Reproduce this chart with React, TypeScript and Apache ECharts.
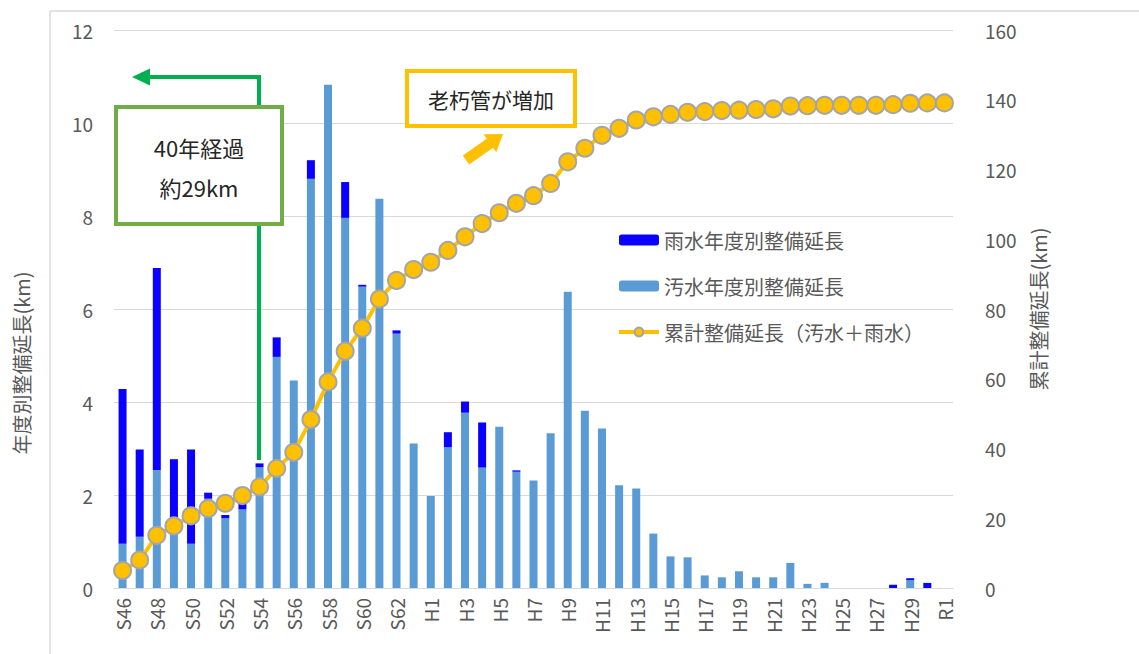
import React, { useEffect, useRef } from "react";
import * as echarts from "echarts";

const categories = [
  "S46","S47","S48","S49","S50","S51","S52","S53","S54","S55","S56","S57","S58","S59","S60","S61","S62","S63",
  "H1","H2","H3","H4","H5","H6","H7","H8","H9","H10","H11","H12","H13","H14","H15","H16","H17","H18","H19","H20",
  "H21","H22","H23","H24","H25","H26","H27","H28","H29","H30","R1",
];

const sewage = [
  0.95, 1.1, 2.54, 1.3, 0.95, 1.92, 1.5, 1.69, 2.6, 4.97, 4.46, 8.8, 10.82, 7.96, 6.48, 8.37, 5.47, 3.11,
  1.98, 3.03, 3.77, 2.59, 3.47, 2.5, 2.31, 3.33, 6.37, 3.81, 3.43, 2.21, 2.14, 1.17, 0.68, 0.66, 0.27, 0.23, 0.36, 0.23,
  0.23, 0.54, 0.09, 0.11, 0, 0, 0, 0, 0.17, 0, 0,
];

const rain = [
  3.33, 1.88, 4.34, 1.47, 2.03, 0.13, 0.07, 0.14, 0.08, 0.42, 0, 0.4, 0, 0.77, 0.04, 0, 0.07, 0,
  0, 0.32, 0.24, 0.97, 0, 0.03, 0, 0, 0, 0, 0, 0, 0, 0, 0, 0, 0, 0, 0, 0,
  0, 0, 0, 0, 0, 0, 0, 0.07, 0.04, 0.11, 0,
];

const cumulative = [
  5.0, 8.0, 15.1, 17.8, 20.7, 22.8, 24.3, 26.5, 29.0, 34.3, 38.9, 48.3, 59.1, 67.9, 74.5, 82.9, 88.2, 91.3,
  93.4, 96.8, 100.7, 104.5, 107.6, 110.3, 112.5, 116.0, 122.2, 126.1, 129.8, 131.8, 134.2, 135.1, 135.8, 136.4, 136.6, 136.9, 137.0, 137.2,
  137.4, 138.2, 138.3, 138.4, 138.4, 138.4, 138.4, 138.6, 139.0, 139.1, 139.1,
];

const leftTicks = { min: 0, max: 12, interval: 2 };
const rightTicks = { min: 0, max: 160, interval: 20 };

const NAME_RAIN = "雨水年度別整備延長";
const NAME_SEWAGE = "汚水年度別整備延長";
const NAME_CUM = "累計整備延長（汚水＋雨水）";

const FONT = "'Noto Sans CJK JP', 'Noto Sans', sans-serif";
const GRAY = "#595959";

export default function App() {
  const ref = useRef<HTMLDivElement>(null);

  useEffect(() => {
    if (!ref.current) return;
    const chart = echarts.init(ref.current, undefined, { renderer: "svg" });

    // yellow arrow geometry
    const T = [466, 160];
    const P = [503, 134];
    const dx = P[0] - T[0];
    const dy = P[1] - T[1];
    const len = Math.sqrt(dx * dx + dy * dy);
    const d = [dx / len, dy / len];
    const n = [-d[1], d[0]];
    const hw = 5.5, hh = 11, hl = 16;
    const hb = [P[0] - d[0] * hl, P[1] - d[1] * hl];
    const arrowPts = [
      [T[0] + n[0] * hw, T[1] + n[1] * hw],
      [hb[0] + n[0] * hw, hb[1] + n[1] * hw],
      [hb[0] + n[0] * hh, hb[1] + n[1] * hh],
      P,
      [hb[0] - n[0] * hh, hb[1] - n[1] * hh],
      [hb[0] - n[0] * hw, hb[1] - n[1] * hw],
      [T[0] - n[0] * hw, T[1] - n[1] * hw],
    ];

    chart.setOption({
      animation: false,
      backgroundColor: "#ffffff",
      textStyle: { fontFamily: FONT },
      grid: { left: 114, right: 186, top: 30, bottom: 66, containLabel: false },
      legend: {
        orient: "vertical",
        left: 612,
        top: 225,
        itemWidth: 40,
        itemHeight: 11,
        itemGap: 26,
        textStyle: { fontSize: 20, color: GRAY, fontFamily: FONT },
        data: [
          NAME_RAIN,
          NAME_SEWAGE,
          { name: NAME_CUM, lineStyle: { width: 4, color: "#FFC000" } },
        ],
      },
      xAxis: {
        type: "category",
        data: categories,
        axisTick: { show: false },
        axisLine: { lineStyle: { color: "#D9D9D9", width: 1 } },
        axisLabel: {
          interval: 1,
          rotate: 90,
          fontSize: 19,
          color: GRAY,
          margin: 10,
          fontFamily: FONT,
        },
      },
      yAxis: [
        {
          type: "value",
          min: leftTicks.min,
          max: leftTicks.max,
          interval: leftTicks.interval,
          axisLine: { show: false },
          axisTick: { show: false },
          splitLine: { lineStyle: { color: "#D9D9D9", width: 1 } },
          axisLabel: { fontSize: 19, color: GRAY, margin: 21, fontFamily: FONT },
        },
        {
          type: "value",
          min: rightTicks.min,
          max: rightTicks.max,
          interval: rightTicks.interval,
          position: "right",
          axisLine: { show: false },
          axisTick: { show: false },
          splitLine: { show: false },
          axisLabel: { fontSize: 19, color: GRAY, margin: 32, fontFamily: FONT },
          name: "累計整備延長(km)",
          nameLocation: "middle",
          nameRotate: 90,
          nameGap: 75,
          nameTextStyle: { fontSize: 20, color: GRAY, fontFamily: FONT },
        },
      ],
      series: [
        {
          name: NAME_SEWAGE,
          type: "bar",
          stack: "total",
          barWidth: 8,
          itemStyle: { color: "#5B9BD5" },
          data: sewage,
          z: 2,
        },
        {
          name: NAME_RAIN,
          type: "bar",
          stack: "total",
          barWidth: 8,
          itemStyle: { color: "#0A00FF" },
          data: rain,
          z: 2,
        },
        {
          name: NAME_CUM,
          type: "line",
          yAxisIndex: 1,
          symbol: "circle",
          symbolSize: 17,
          showAllSymbol: true,
          lineStyle: { color: "#FFC000", width: 4 },
          itemStyle: { color: "#FFC000", borderColor: "#A5A5A5", borderWidth: 2 },
          data: cumulative,
          z: 5,
        },
      ],
      graphic: [
        { type: "line", z: 1, silent: true, shape: { x1: 50, y1: 11, x2: 1139, y2: 11 }, style: { stroke: "#D9D9D9", lineWidth: 1.5 } },
        { type: "line", z: 1, silent: true, shape: { x1: 50, y1: 11, x2: 50, y2: 654 }, style: { stroke: "#D9D9D9", lineWidth: 1.5 } },
        {
          type: "text",
          z: 50,
          x: 21,
          y: 363,
          rotation: Math.PI / 2,
          style: {
            text: "年度別整備延長(km)",
            fontSize: 20,
            fill: GRAY,
            fontFamily: FONT,
            align: "center",
            verticalAlign: "middle",
          },
        },
        {
          type: "polyline",
          z: 50,
          shape: { points: [[259, 460], [259, 77], [147, 77]] },
          style: { stroke: "#00B050", lineWidth: 4, fill: null },
        },
        {
          type: "polygon",
          z: 50,
          shape: { points: [[132, 77], [150, 68.5], [150, 85.5]] },
          style: { fill: "#00B050" },
        },
        {
          type: "rect",
          z: 60,
          shape: { x: 116, y: 107, width: 166, height: 117 },
          style: { fill: "#ffffff", stroke: "#70AD47", lineWidth: 4 },
        },
        {
          type: "text",
          z: 61,
          x: 199,
          y: 147,
          style: { text: "40年経過", fontSize: 22, fill: "#262626", fontFamily: FONT, align: "center", verticalAlign: "middle" },
        },
        {
          type: "text",
          z: 61,
          x: 199,
          y: 187,
          style: { text: "約29km", fontSize: 22, fill: "#262626", fontFamily: FONT, align: "center", verticalAlign: "middle" },
        },
        {
          type: "rect",
          z: 60,
          shape: { x: 407, y: 71, width: 168, height: 55 },
          style: { fill: "#ffffff", stroke: "#FFC000", lineWidth: 4 },
        },
        {
          type: "text",
          z: 61,
          x: 491,
          y: 99,
          style: { text: "老朽管が増加", fontSize: 21, fill: "#262626", fontFamily: FONT, align: "center", verticalAlign: "middle" },
        },
        {
          type: "polygon",
          z: 60,
          shape: { points: arrowPts },
          style: { fill: "#FFC000" },
        },
      ],
    });

    return () => {
      chart.dispose();
    };
  }, []);

  return (
    <div
      ref={ref}
      style={{ position: "fixed", left: 0, top: 0, width: 1139, height: 654, background: "#fff" }}
    />
  );
}
